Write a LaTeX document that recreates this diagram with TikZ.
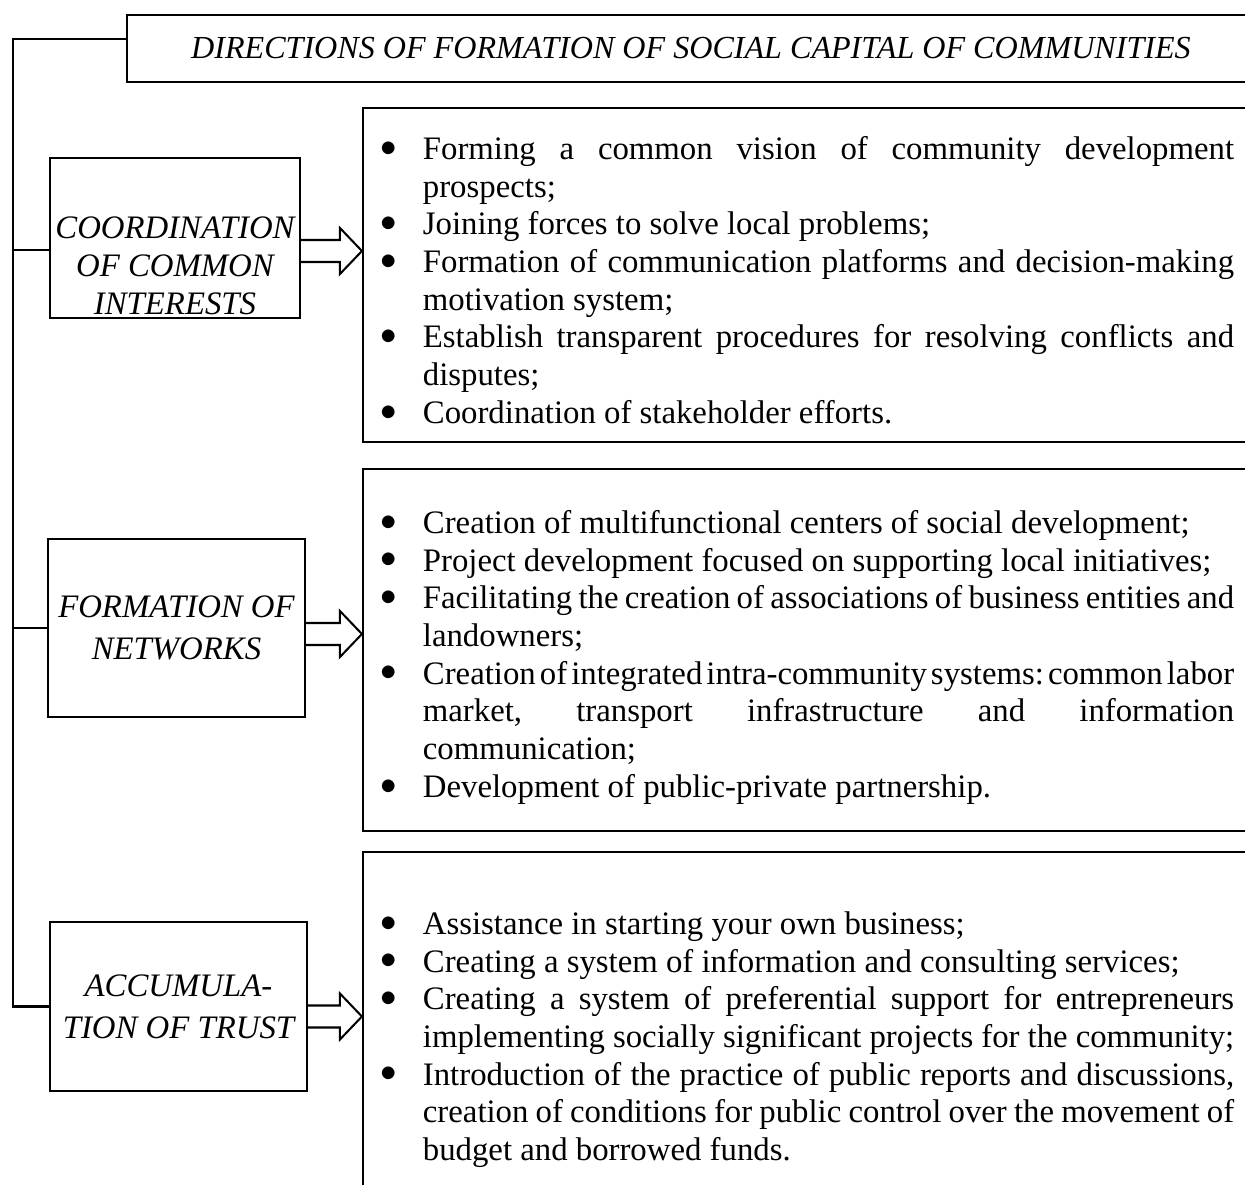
\documentclass[tikz,border=0pt]{standalone}
\usepackage{fontspec}
\setmainfont{Liberation Serif}
\usetikzlibrary{calc}

% one bullet item with hanging indent
\newcommand\bul{\noindent\hangindent=13.5pt\hangafter=1\strut\makebox[13.5pt][l]{\hspace{-2pt}\raisebox{1.2pt}{$\bullet$}}}

\begin{document}
\begin{tikzpicture}
  [x=0.366pt,y=-0.366pt,line width=0.75pt,
   every node/.style={font={\fontsize{12}{13.8}\selectfont}},
   boxframe/.style={draw,rectangle,inner sep=0pt},
   sidetext/.style={align=center,font={\fontsize{12}{15.4}\selectfont\itshape}},
   itemlist/.style={anchor=north west,inner sep=0pt,text width=310.4pt,align=justify,
     font={\fontsize{12}{13.8}\selectfont\hyphenpenalty=10000\exhyphenpenalty=10000\tolerance=10000
       \frenchspacing\spaceskip=3pt plus 6pt minus 1.6pt}},
   blockarrow/.style={draw,line join=miter}]
  \path[use as bounding box,clip] (0,0) rectangle (1245,1184);

  \node[boxframe,minimum width=412.8pt,minimum height=24.5pt,font={\fontsize{11.75}{13.8}\selectfont}] (title) at (691,48.5)
    {\itshape DIRECTIONS OF FORMATION OF SOCIAL CAPITAL OF COMMUNITIES};

  % left column
  \node[boxframe,minimum width=91.5pt,minimum height=58.6pt] (coord) at (175,238) {};
  \node[sidetext,font={\fontsize{12}{13.8}\selectfont\itshape}] (coordtext) at (175,266)
    {COORDINATION\\OF COMMON\\INTERESTS};
  \node[boxframe,sidetext,minimum width=94.1pt,minimum height=65.1pt] (net) at (176.5,628)
    {FORMATION OF\\NETWORKS};
  \node[boxframe,sidetext,minimum width=94.1pt,minimum height=61.9pt] (trust) at (178.5,1006.5)
    {ACCUMULA-\\TION OF TRUST};

  % right column
  \node[boxframe,minimum width=326.5pt,minimum height=122.2pt] (box1) at (809,275) {};
  \node[boxframe,minimum width=326.5pt,minimum height=132.5pt] (box2) at (809,650) {};
  \node[boxframe,minimum width=326.5pt,minimum height=127.4pt] (box3) at (809,1026) {};

  \node[itemlist] (list1) at (385,132) {%
    \bul Forming a common vision of community development\linebreak prospects;\par
    \bul Joining forces to solve local problems;\par
    \bul Formation of communication platforms and decision-making\linebreak motivation system;\par
    \bul Establish transparent procedures for resolving conflicts and\linebreak disputes;\par
    \bul Coordination of stakeholder efforts.\par};
  \node[itemlist] (list2) at (385,506) {%
    \bul Creation of multifunctional centers of social development;\par
    \bul Project development focused on supporting local initiatives;\par
    \bul Facilitating the creation of associations of business entities and\linebreak landowners;\par
    \bul \hbox to 296.9pt{Creation of integrated intra-community systems: common labor}\linebreak
      market, transport infrastructure and information\linebreak communication;\par
    \bul Development of public-private partnership.\par};
  \node[itemlist] (list3) at (385,907) {%
    \bul Assistance in starting your own business;\par
    \bul Creating a system of information and consulting services;\par
    \bul Creating a system of preferential support for entrepreneurs\linebreak implementing socially significant projects for the community;\par
    \bul Introduction of the practice of public reports and discussions,\linebreak creation of conditions for public control over the movement of\linebreak budget and borrowed funds.\par};

  % tree lines
  \coordinate (top) at (13,39);
  \coordinate (coordin) at ($(coord.west)+(0,12)$);
  \draw (title.west |- top) -- (top) |- (trust.west);
  \draw (top |- coordin) -- (coordin);
  \draw (top |- net.west) -- (net.west);

  % hollow arrows
  \foreach \from/\to/\dy in {coord/box1/13,net/box2/6,trust/box3/10}{
    \coordinate (mid) at ($(\from.east)+(0,\dy)$);
    \draw[blockarrow] ($(mid)+(0,-11)$) -- ($(mid -| \to.west)+(-22,-11)$) -- ++(0,-12)
      -- (mid -| \to.west) -- ++(-22,23) -- ++(0,-12) -- ($(mid)+(0,11)$);
  }
\end{tikzpicture}
\end{document}
